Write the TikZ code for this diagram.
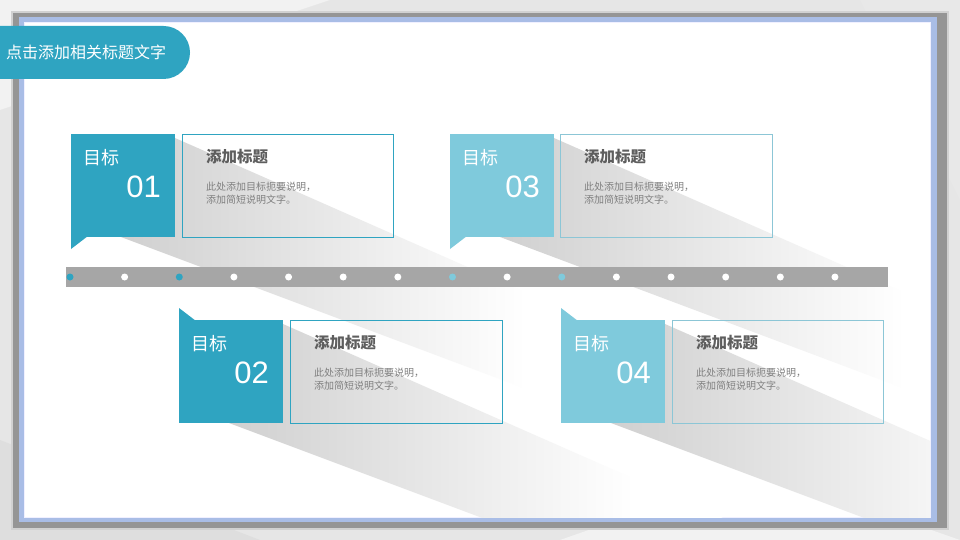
\documentclass[tikz,border=0pt]{standalone}
\usepackage{fontspec}
\setmainfont{Noto Sans CJK SC}
\newfontfamily\numfont{Liberation Sans}
\usetikzlibrary{calc}
\definecolor{tealA}{HTML}{2FA4C1}
\definecolor{tealB}{HTML}{7FCADC}
\definecolor{tealBline}{HTML}{8CC6D6}
\definecolor{bgray}{HTML}{E6E6E6}
\definecolor{framegray}{HTML}{959595}
\definecolor{frameblue}{HTML}{A9BDE6}
\definecolor{bargray}{HTML}{A6A6A6}
\definecolor{headgray}{HTML}{5E5E5E}
\definecolor{descgray}{HTML}{7F7F7F}
\definecolor{shadowgray}{HTML}{D0D0D0}
\pgfdeclarehorizontalshading{shadowshade}{100bp}{color(0bp)=(shadowgray); color(25bp)=(shadowgray); color(66bp)=(white); color(100bp)=(white)}
\tikzset{
  sqbox/.style={inner sep=0, minimum width=104pt, minimum height=103pt, anchor=north west},
  txtbox/.style={draw=#1, line width=0.9pt, inner sep=0, minimum height=103pt, anchor=north west},
  goal/.style={anchor=west, inner sep=0, text=white, font=\fontsize{18}{18}\selectfont},
  goalnum/.style={anchor=east, inner sep=0, text=white, font=\numfont\fontsize{31}{31}\selectfont},
  headtxt/.style={anchor=west, inner sep=0, text=headgray, font=\bfseries\fontsize{15.5}{15.5}\selectfont},
  desctxt/.style={anchor=north west, inner sep=0, text=descgray, align=left, font=\fontsize{10}{13}\selectfont},
  dot/.style={circle, fill=#1, inner sep=0, minimum size=7pt},
  shadowfill/.style={shading=shadowshade}
}
\begin{document}
\begin{tikzpicture}[x=1pt,y=-1pt]
\useasboundingbox (0,0) rectangle (960,540);
% background
\fill[bgray] (0,0) rectangle (960,540);
\fill[black!5] (0,0) -- (330,0) -- (0,110) -- cycle;
\fill[black!13] (0,540) -- (0,440) -- (260,540) -- cycle;
\fill[black!5] (560,540) -- (760,470) -- (960,540) -- cycle;
\fill[black!9] (960,0) -- (960,200) -- (860,0) -- cycle;
% frame
\fill[black!18] (11,11) rectangle (949,530);
\fill[framegray] (13,13) rectangle (947,528);
\fill[frameblue] (19,17) rectangle (937,522);
\fill[blue!6] (24,22) rectangle (931,518);
\fill[white] (25,23) rectangle (930,517);
% shadows
\begin{scope}
\clip (25,23) rectangle (930,517);
\foreach \sx/\sy in {71/134, 450/134, 179/320, 561/320}{
  \shade[shadowfill] (\sx+104,\sy+4) -- ++(440,194) -- ($(\sx+50,\sy+103)+(440,165)$) -- (\sx+50,\sy+103) -- cycle;
}
\end{scope}
% title tab
\fill[tealA, rounded corners=26.5pt] (-40,26) rectangle (190,79);
\node[anchor=west, inner sep=0, text=white, font=\fontsize{16}{16}\selectfont] (title) at (6,52) {点击添加相关标题文字};
% timeline bar
\node[fill=bargray, inner sep=0, minimum width=822pt, minimum height=20pt, anchor=west] (bar) at (66,277) {};
\foreach \k in {0,...,14}{
  \pgfmathsetmacro{\dx}{70+54.64*\k}
  \ifnum\k=0 \def\dc{tealA}\else\ifnum\k=2 \def\dc{tealA}\else\ifnum\k=7 \def\dc{tealB}\else\ifnum\k=9 \def\dc{tealB}\else\def\dc{white}\fi\fi\fi\fi
  \node[dot=\dc] (d\k) at (\dx,277) {};
}
% goal boxes
\foreach \n/\sx/\sy/\tx/\tw/\c/\lc/\tab in {1/71/134/182/211/tealA/tealA/b, 3/450/134/560/212/tealB/tealBline/b, 2/179/320/290/212/tealA/tealA/t, 4/561/320/672/211/tealB/tealBline/t}{
  \if b\tab
    \fill[\c] (\sx,\sy+102) -- (\sx,\sy+115) -- (\sx+17,\sy+102) -- cycle;
  \else
    \fill[\c] (\sx,\sy+1) -- (\sx,\sy-12) -- (\sx+17,\sy+1) -- cycle;
  \fi
  \node[sqbox, fill=\c] (sq\n) at (\sx,\sy) {};
  \node[goal] (g\n) at (\sx+12,\sy+24) {目标};
  \node[goalnum] (num\n) at (\sx+90,\sy+53) {0\n};
  \node[txtbox=\lc, minimum width=\tw pt] (tb\n) at (\tx,\sy) {};
  \node[headtxt] (h\n) at (\tx+24,\sy+23) {添加标题};
  \node[desctxt] (ds\n) at (\tx+24,\sy+47.5) {此处添加目标扼要说明，\\添加简短说明文字。};
}
\end{tikzpicture}
\end{document}
